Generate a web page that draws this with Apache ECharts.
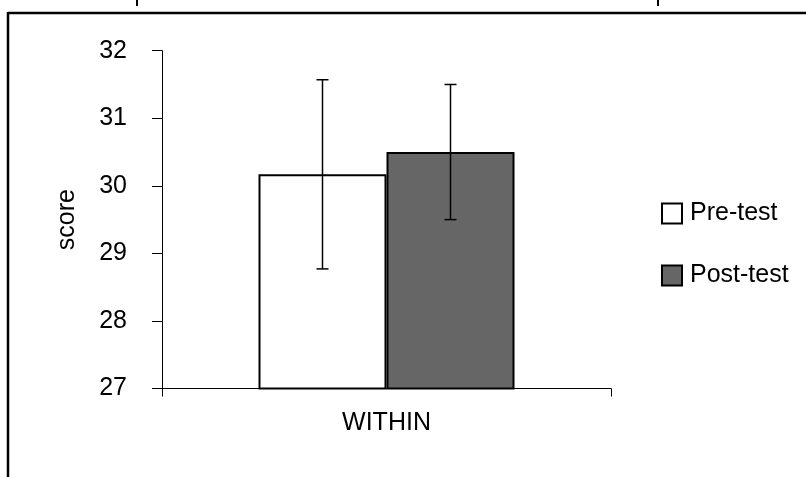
<!DOCTYPE html>
<html>
<head>
<meta charset="utf-8">
<script src="https://cdn.jsdelivr.net/npm/echarts@6/dist/echarts.min.js"></script>
<style>
html,body{margin:0;padding:0;background:#fff;}
#chart{width:806px;height:477px;}
</style>
</head>
<body>
<div id="chart"></div>
<script>
var categories = ['WITHIN'];
var seriesNames = ['Pre-test', 'Post-test'];
var preMean = [30.17];
var preErr = [1.40];
var postMean = [30.50];
var postErr = [1.00];
var yTicks = [27, 28, 29, 30, 31, 32];

var FONT = '"Liberation Sans", Arial, Helvetica, sans-serif';
var BAR_W = 128;

var chart = echarts.init(document.getElementById('chart'), null, {renderer: 'canvas'});

function errSeries(name, means, errs, sign) {
  return {
    type: 'custom',
    name: name + ' err',
    z: 10,
    silent: true,
    data: means.map(function (m, i) { return [i, m, errs[i]]; }),
    renderItem: function (params, api) {
      var idx = api.value(0), m = api.value(1), e = api.value(2);
      var c = api.coord([idx, m]);
      var x = c[0] + sign * BAR_W / 2;
      var top = api.coord([idx, m + e])[1];
      var bot = api.coord([idx, m - e])[1];
      var cap = 6;
      var st = {stroke: '#000', lineWidth: 1.5};
      return {
        type: 'group',
        children: [
          {type: 'line', shape: {x1: x, y1: top, x2: x, y2: bot}, style: st},
          {type: 'line', shape: {x1: x - cap, y1: top, x2: x + cap, y2: top}, style: st},
          {type: 'line', shape: {x1: x - cap, y1: bot, x2: x + cap, y2: bot}, style: st}
        ]
      };
    }
  };
}

var option = {
  backgroundColor: '#fff',
  animation: false,
  textStyle: {fontFamily: FONT},
  grid: {left: 162, right: 195, top: 50.7, bottom: 88.5, containLabel: false},
  legend: {
    data: seriesNames,
    orient: 'vertical',
    left: 656,
    top: 196,
    itemWidth: 20,
    itemHeight: 20,
    itemGap: 37,
    icon: 'rect',
    textStyle: {fontFamily: FONT, fontSize: 25, color: '#000', padding: [0, 0, 0, 3]}
  },
  xAxis: {
    type: 'category',
    data: categories,
    boundaryGap: true,
    axisLine: {lineStyle: {color: '#000', width: 1}},
    axisTick: {show: true, length: 8, lineStyle: {color: '#000', width: 1}},
    axisLabel: {color: '#000', fontSize: 25, fontFamily: FONT, margin: 22},
    splitLine: {show: false}
  },
  yAxis: {
    type: 'value',
    min: yTicks[0],
    max: yTicks[yTicks.length - 1],
    interval: 1,
    name: 'score',
    nameLocation: 'middle',
    nameGap: 82,
    nameRotate: 90,
    nameTextStyle: {color: '#000', fontSize: 25, fontFamily: FONT},
    axisLine: {show: true, lineStyle: {color: '#000', width: 1}},
    axisTick: {show: true, length: 10, lineStyle: {color: '#000', width: 1}},
    axisLabel: {color: '#000', fontSize: 25, fontFamily: FONT, margin: 35, padding: [0, 0, 10, 0]},
    splitLine: {show: false}
  },
  series: [
    {
      type: 'bar',
      name: seriesNames[0],
      data: preMean,
      barWidth: BAR_W,
      barGap: '0%',
      itemStyle: {color: '#ffffff', borderColor: '#000', borderWidth: 2}
    },
    {
      type: 'bar',
      name: seriesNames[1],
      data: postMean,
      barWidth: BAR_W,
      barGap: '0%',
      itemStyle: {color: '#666666', borderColor: '#000', borderWidth: 2}
    },
    errSeries(seriesNames[0], preMean, preErr, -1),
    errSeries(seriesNames[1], postMean, postErr, 1)
  ],
  graphic: [
    {type: 'line', shape: {x1: 8, y1: 13, x2: 806, y2: 13}, style: {stroke: '#000', lineWidth: 2.5}},
    {type: 'line', shape: {x1: 8, y1: 12, x2: 8, y2: 477}, style: {stroke: '#000', lineWidth: 2.5}},
    {type: 'line', shape: {x1: 137, y1: 0, x2: 137, y2: 6}, style: {stroke: '#000', lineWidth: 2}},
    {type: 'line', shape: {x1: 658, y1: 0, x2: 658, y2: 6}, style: {stroke: '#000', lineWidth: 2}}
  ]
};

chart.setOption(option);
</script>
</body>
</html>
